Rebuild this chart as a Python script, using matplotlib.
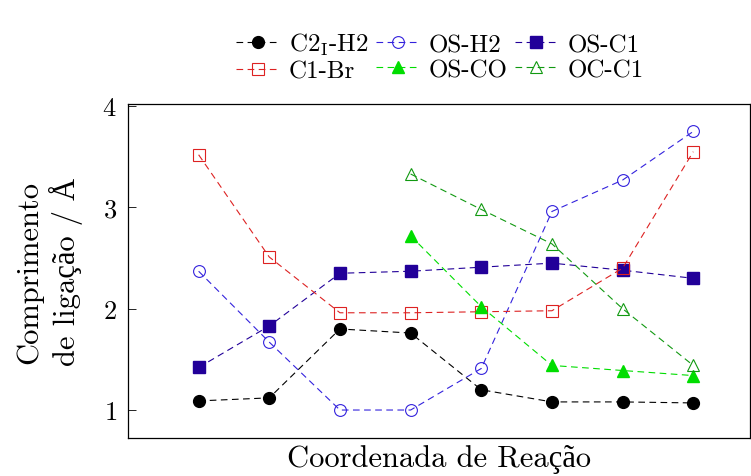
import numpy as np
import matplotlib
matplotlib.use("Agg")
import matplotlib.pyplot as plt

plt.rcParams['font.family'] = ['cmr10', 'Liberation Serif']
plt.rcParams['mathtext.fontset'] = 'cm'
plt.rcParams['axes.formatter.use_mathtext'] = True

x_full = [1, 2, 3, 4, 5, 6, 7, 8]
x_late = [4, 5, 6, 7, 8]

c2i_h2 = [1.09, 1.12, 1.80, 1.76, 1.20, 1.08, 1.08, 1.07]
os_h2 = [2.37, 1.67, 1.00, 1.00, 1.41, 2.96, 3.27, 3.75]
os_c1 = [1.42, 1.83, 2.35, 2.37, 2.41, 2.45, 2.38, 2.30]
c1_br = [3.52, 2.51, 1.96, 1.96, 1.97, 1.98, 2.40, 3.55]
os_co = [2.72, 2.02, 1.44, 1.39, 1.34]
oc_c1 = [3.33, 2.98, 2.64, 2.00, 1.44]

fig = plt.figure(figsize=(7.51, 4.77), dpi=100)
ax = fig.add_axes([0.1704, 0.0797, 0.828, 0.700])

dash = (0, (6, 4))
lw = 0.8
ms = 8.5

ax.plot(x_full, c2i_h2, linestyle=dash, lw=lw, color='black', marker='o', ms=ms,
        label=r'C2$_{\mathrm{I}}$-H2')
ax.plot(x_full, os_h2, linestyle=dash, lw=lw, color='#3322dd', marker='o', ms=ms,
        mfc='none', mew=0.8, label='OS-H2')
ax.plot(x_full, os_c1, linestyle=dash, lw=lw, color='#220099', marker='s', ms=ms,
        label='OS-C1')
ax.plot(x_full, c1_br, linestyle=dash, lw=lw, color='#dd2222', marker='s', ms=ms,
        mfc='none', mew=0.8, label='C1-Br')
ax.plot(x_late, os_co, linestyle=dash, lw=lw, color='#00dd00', marker='^', ms=ms,
        label='OS-CO')
ax.plot(x_late, oc_c1, linestyle=dash, lw=lw, color='#119911', marker='^', ms=ms,
        mfc='none', mew=0.8, label='OC-C1')

ax.set_xlim(0, 8.8)
ax.set_ylim(0.724, 4.02)
ax.set_yticks([1, 2, 3, 4])
ax.set_xticks([])
ax.tick_params(axis='y', direction='in', length=6, labelsize=19, width=0.6, pad=8)
for s in ax.spines.values():
    s.set_linewidth(0.9)

ax.set_xlabel('Coordenada de Reação', fontsize=22, labelpad=4)
ax.set_ylabel('Comprimento\nde ligação / Å', fontsize=22, labelpad=14)

# legend filled row by row
h, l = ax.get_legend_handles_labels()
order = [0, 3, 1, 4, 2, 5]
ax.legend([h[i] for i in order], [l[i] for i in order],
          loc='lower center', bbox_to_anchor=(0.502, 1.035), ncol=3, frameon=False,
          fontsize=18, handlelength=1.7, columnspacing=0.3, handletextpad=0.4,
          labelspacing=0.1, borderaxespad=0)

fig.savefig('out.png', dpi=100)
